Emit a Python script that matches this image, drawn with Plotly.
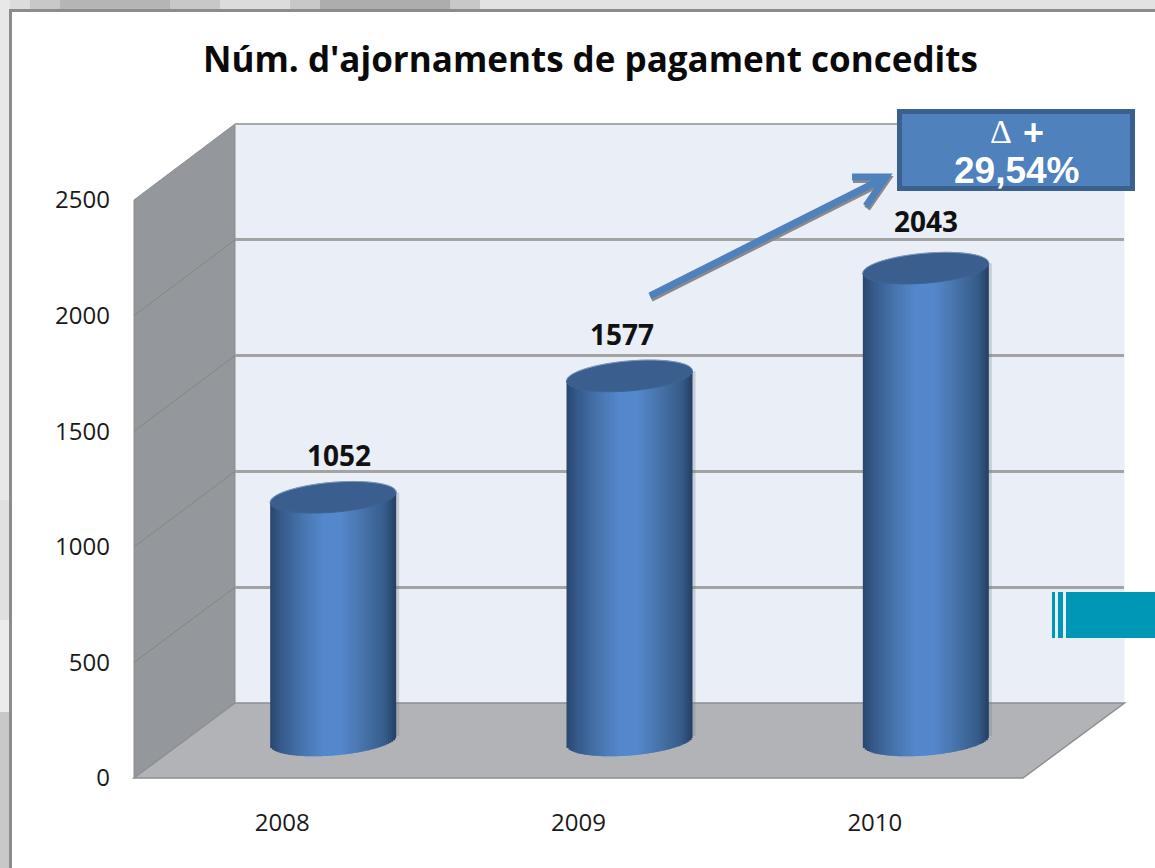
import plotly.graph_objects as go

# ---- data ----
YEARS = ["2008", "2009", "2010"]
VALUES = [1052, 1577, 2043]
Y_TICKS = [0, 500, 1000, 1500, 2000, 2500]
TITLE = "Núm. d'ajornaments de pagament concedits"
DELTA_LABEL = "29,54%"

# ---- geometry (pixels) ----
W, H = 1155, 868
X0, X1 = 134, 1023        # front edge of the floor
Y_ZERO, Y_TOP = 778, 200  # front axis
DX, DY = 101, 75          # depth of the 3D box
MIDX, MIDY = 51, 37.5     # bars stand half way into the box
X_UNIT = (X1 - X0) / 3
Y_UNIT = (Y_ZERO - Y_TOP) / 2500
HALF_W = 63               # cylinder radius
SHEAR = 0.08              # ellipse tilt
EL_B = 15                 # ellipse half height
N_STRIPS = 63

def px(x): return x / W
def py(y): return 1 - y / H
def poly(points, close=True):
    s = "M " + " L ".join(f"{px(x):.5f} {py(y):.5f}" for x, y in points)
    return s + (" Z" if close else "")

def lerp_color(t):
    stops = [(0, (42, 70, 110)), (.08, (53, 89, 138)), (.25, (71, 116, 172)), (.42, (84, 136, 204)),
             (.56, (84, 136, 204)), (.75, (70, 114, 168)), (.92, (53, 90, 136)), (1, (38, 62, 98))]
    for (a, ca), (b, cb) in zip(stops, stops[1:]):
        if t <= b:
            f = (t - a) / (b - a)
            return "rgb(" + ",".join(str(round(p + (q - p) * f)) for p, q in zip(ca, cb)) + ")"
    return "rgb(38,62,98)"

fig = go.Figure()

# faint shadow on the right of each cylinder
fig.add_trace(go.Bar(x=[0, 1, 2], y=[v for v in VALUES], base=[20] * 3,
                     width=6 / X_UNIT, offset=(HALF_W - 3) / X_UNIT,
                     marker=dict(color="rgba(110,120,140,0.28)", line_width=0),
                     xaxis="x3", yaxis="y3", hoverinfo="skip", showlegend=False))

# cylinder bodies: vertical strips that follow the elliptical bottom and the tilted top
strip = 2 * HALF_W / N_STRIPS
for i in range(N_STRIPS):
    dx = -HALF_W + (i + 0.5) * strip
    u = dx / HALF_W
    top_shift = SHEAR * dx / Y_UNIT
    bottom = (SHEAR * dx - EL_B * (1 - u * u) ** 0.5) / Y_UNIT
    tops = [v + top_shift for v in VALUES]
    bases = [bottom] * 3
    w = strip + (1 if i < N_STRIPS - 1 else 0)
    fig.add_trace(go.Bar(x=[0, 1, 2], y=[t - b for t, b in zip(tops, bases)], base=bases,
                         offset=(dx - strip / 2) / X_UNIT, width=w / X_UNIT,
                         marker=dict(color=lerp_color((i + 0.5) / N_STRIPS), line_width=0),
                         xaxis="x3", yaxis="y3", hoverinfo="skip", showlegend=False))

# invisible traces so that the front and back axes exist
fig.add_trace(go.Scatter(x=[0, 1, 2], y=VALUES, mode="markers", marker=dict(opacity=0),
                         xaxis="x", yaxis="y", hoverinfo="skip", showlegend=False))
fig.add_trace(go.Scatter(x=[0, 1, 2], y=VALUES, mode="markers", marker=dict(opacity=0),
                         xaxis="x2", yaxis="y2", hoverinfo="skip", showlegend=False))

shapes = []
# outer background strips
TOP_STRIP = [(0, 30, "#dcdcdc"), (30, 60, "#c8c8c8"), (60, 170, "#b5b5b5"), (170, 220, "#c8c8c8"),
             (220, 290, "#dcdcdc"), (290, 320, "#c8c8c8"), (320, 450, "#adadad"), (450, 480, "#c8c8c8"),
             (480, 1155, "#e2e2e2")]
for a, b, c in TOP_STRIP:
    shapes.append(dict(type="rect", xref="paper", yref="paper", x0=px(a), x1=px(b), y0=py(10), y1=py(0),
                       fillcolor=c, line_width=0, layer="below"))
LEFT_STRIP = [(0, 500, "#e8e8e8"), (500, 620, "#e0e0e0"), (620, 712, "#ececec"), (712, 868, "#c8c8c8")]
for a, b, c in LEFT_STRIP:
    shapes.append(dict(type="rect", xref="paper", yref="paper", x0=px(0), x1=px(10), y0=py(b), y1=py(a),
                       fillcolor=c, line_width=0, layer="below"))
# panel
shapes.append(dict(type="rect", xref="paper", yref="paper", x0=px(10.5), x1=px(1175), y0=py(890), y1=py(10.5),
                   fillcolor="white", line=dict(color="#8c8c8c", width=3), layer="below"))
# back wall, side wall, floor
BX0, BX1, BY0, BY1 = X0 + DX, X1 + DX + 0.5, Y_ZERO - DY, Y_TOP - DY - 1
shapes.append(dict(type="rect", xref="paper", yref="paper", x0=px(BX0), x1=px(BX1), y0=py(BY0), y1=py(BY1),
                   fillcolor="#e9eef7", line_width=0, layer="below"))
shapes.append(dict(type="path", xref="paper", yref="paper", layer="below", fillcolor="#94979b",
                   line=dict(color="#8b8d90", width=1),
                   path=poly([(X0, Y_TOP), (BX0, BY1), (BX0, BY0), (X0, Y_ZERO)])))
shapes.append(dict(type="path", xref="paper", yref="paper", layer="below", fillcolor="#b1b3b7",
                   line=dict(color="#8e8f92", width=1.5),
                   path=poly([(X0, Y_ZERO), (BX0, BY0), (BX1, BY0), (X1, Y_ZERO)])))
# lines across the side wall, at each tick
for v in Y_TICKS[1:-1]:
    y = Y_ZERO - v * Y_UNIT
    shapes.append(dict(type="line", xref="paper", yref="paper", x0=px(X0), x1=px(BX0), y0=py(y),
                       y1=py(BY0 - v * (BY0 - BY1) / 2500),
                       line=dict(color="#86857f", width=1), layer="below"))
# top of the box
shapes.append(dict(type="line", xref="paper", yref="paper", x0=px(BX0), x1=px(BX1), y0=py(BY1), y1=py(BY1),
                   line=dict(color="#a8a8a8", width=2), layer="below"))

# tops of the cylinders
k = 0.5523
for i, v in enumerate(VALUES):
    def pt(dx, dy):
        return f"{i + dx / X_UNIT:.5f} {v + (SHEAR * dx + dy) / Y_UNIT:.3f}"
    a, b = HALF_W, EL_B
    path = (f"M {pt(-a, 0)} C {pt(-a, k * b)} {pt(-k * a, b)} {pt(0, b)} "
            f"C {pt(k * a, b)} {pt(a, k * b)} {pt(a, 0)} "
            f"C {pt(a, -k * b)} {pt(k * a, -b)} {pt(0, -b)} "
            f"C {pt(-k * a, -b)} {pt(-a, -k * b)} {pt(-a, 0)} Z")
    rim = (f"M {pt(-a, 0)} C {pt(-a, k * b)} {pt(-k * a, b)} {pt(0, b)} "
           f"C {pt(k * a, b)} {pt(a, k * b)} {pt(a, 0)}")
    shapes.append(dict(type="path", xref="x3", yref="y3", path=path, fillcolor="#3a5f8e",
                       line=dict(color="#3c6494", width=1), layer="above"))
    shapes.append(dict(type="path", xref="x3", yref="y3", path=rim,
                       line=dict(color="rgba(215,225,240,0.4)", width=1), layer="above"))

# teal tab at the right
for a, b in [(1052, 1055), (1058, 1063), (1066, 1155)]:
    shapes.append(dict(type="rect", xref="paper", yref="paper", x0=px(a), x1=px(b), y0=py(638), y1=py(592),
                       fillcolor="#0097b7", line_width=0, layer="above"))

# arrow with its shadow
SHAFT = [(650, 296), (884, 178)]
HEAD = [(852, 177), (886, 177), (866, 206)]
for off, col, wd in [((1, 2.5), "#8a8a8a", 7), ((0, 0), "#4f81bd", 7)]:
    for line in (SHAFT, HEAD):
        shapes.append(dict(type="path", xref="paper", yref="paper", layer="above",
                           path=poly([(x + off[0], y + off[1]) for x, y in line], close=False),
                           line=dict(color=col, width=wd)))

# delta box
shapes.append(dict(type="rect", xref="paper", yref="paper", x0=px(899.5), x1=px(1132.5), y0=py(188.5), y1=py(111.5),
                   fillcolor="#4f81bd", line=dict(color="#3b5f8f", width=5), layer="above"))

annotations = []
LABEL_DX = [6, -8, 0]
LABEL_DY = [42, 42, 47]
for i, v in enumerate(VALUES):
    annotations.append(dict(x=i, y=v, xref="x3", yref="y3", text=f"<b>{v}</b>", showarrow=False,
                            xshift=LABEL_DX[i], yshift=LABEL_DY[i], xanchor="center", yanchor="middle",
                            font=dict(family="Open Sans", size=28, color="#111111")))
center = dict(xref="paper", yref="paper", showarrow=False, xanchor="center", yanchor="middle")
annotations += [
    dict(x=px(1000.5), y=py(131), text="Δ", font=dict(family="Liberation Serif", size=34, color="white"), **center),
    dict(x=px(1033), y=py(132), text="<b>+</b>", font=dict(family="Liberation Sans", size=36, color="white"), **center),
    dict(x=px(1017), y=py(170), text=f"<b>{DELTA_LABEL}</b>",
         font=dict(family="Liberation Sans", size=37, color="white"), **center),
    dict(x=px(590), y=py(59), text=f"<b>{TITLE}</b>",
         font=dict(family="Open Sans", size=35, color="#0a0a0a"), **center),
]

hidden = dict(showgrid=False, zeroline=False, showticklabels=False, ticks="", showline=False, fixedrange=True,
              automargin=False)
fig.update_layout(
    width=W, height=H, autosize=False,
    margin=dict(l=0, r=0, t=0, b=0, pad=0),
    paper_bgcolor="#dcdcdc", plot_bgcolor="rgba(0,0,0,0)",
    barmode="overlay", showlegend=False,
    xaxis=dict(domain=[px(X0), px(X1)], range=[-0.5, 2.5], tickmode="array", tickvals=[0, 1, 2], ticktext=YEARS,
               showgrid=False, zeroline=False, showline=False, ticks="", ticklabelstandoff=28, automargin=False,
               tickfont=dict(family="Open Sans", size=24, color="#1a1a1a"), anchor="y", fixedrange=True),
    yaxis=dict(domain=[py(Y_ZERO), py(Y_TOP)], range=[0, 2500], tickmode="array", tickvals=Y_TICKS,
               showgrid=False, zeroline=False, showline=False, ticks="", ticklabelstandoff=23, automargin=False,
               tickfont=dict(family="Open Sans", size=24, color="#1a1a1a"), anchor="x", fixedrange=True),
    xaxis2=dict(domain=[px(X0 + DX), px(X1 + DX)], range=[-0.5, 2.5], anchor="y2", **hidden),
    yaxis2=dict(domain=[py(BY0), py(BY1)], range=[0, 2500], anchor="x2", tickmode="array",
                tickvals=Y_TICKS[1:-1], showgrid=True, gridcolor="#a3a3a3", gridwidth=2.5, zeroline=False,
                showticklabels=False, ticks="", showline=False, fixedrange=True, automargin=False),
    xaxis3=dict(domain=[px(X0 + MIDX), px(X1 + MIDX)], range=[-0.5, 2.5], anchor="y3", **hidden),
    yaxis3=dict(domain=[py(Y_ZERO - MIDY + 250 * Y_UNIT), py(Y_TOP - MIDY)], range=[-250, 2500], anchor="x3", **hidden),
    shapes=shapes, annotations=annotations,
)

fig.write_html("out.html", post_script="document.body.style.margin='0';document.body.style.overflow='hidden';",
               config=dict(displayModeBar=False))
